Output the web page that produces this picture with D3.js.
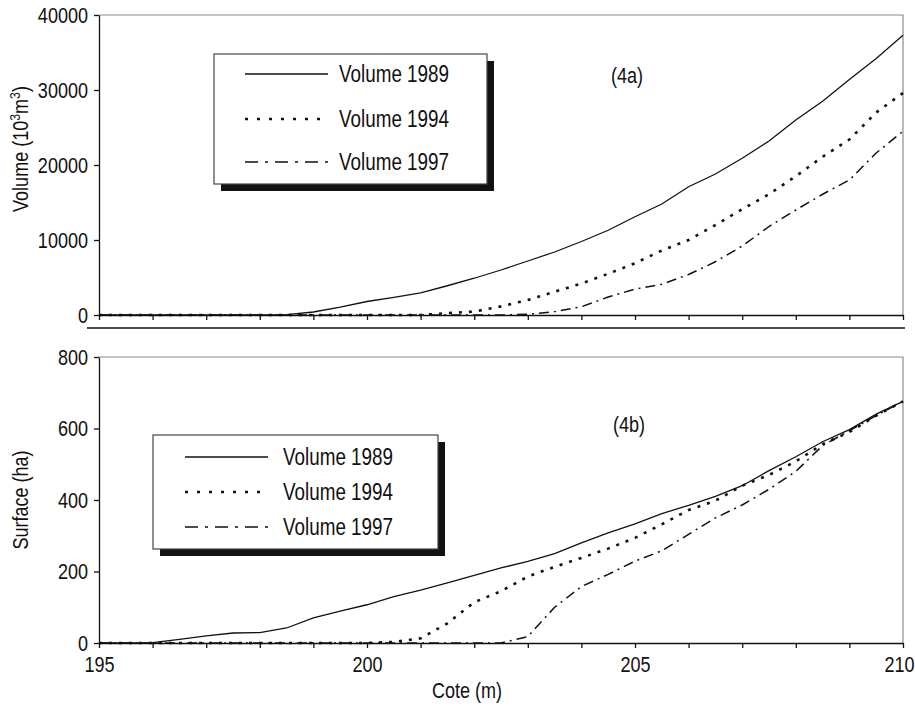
<!DOCTYPE html>
<html>
<head>
<meta charset="utf-8">
<script src="https://cdn.jsdelivr.net/npm/d3@7"></script>
<style>
  body { margin: 0; background: #fff; }
  svg { display: block; font-family: "Liberation Sans", Arial, sans-serif; }
  .axis path, .axis line { stroke: #111; stroke-width: 1.3; }
  .axis text { font-size: 22px; fill: #111; }
</style>
</head>
<body>
<script>
// cote (m), common grid for all series
var cote = [195, 195.5, 196, 196.5, 197, 197.5, 198, 198.5, 199, 199.5, 200, 200.5, 201, 201.5, 202,
  202.5, 203, 203.5, 204, 204.5, 205, 205.5, 206, 206.5, 207, 207.5, 208, 208.5, 209, 209.5, 210];

// volume (10^3 m3)
var vol1989 = [0, 0, 0, 0, 0, 0, 0, 50, 400, 1050, 1800, 2350, 2950, 3900, 4900, 6000, 7200, 8400,
  9800, 11300, 13100, 14800, 17100, 18800, 20900, 23200, 26000, 28500, 31400, 34200, 37300];
var vol1994 = [0, 0, 0, 0, 0, 0, 0, 0, 0, 0, 0, 0, 0, 250, 450, 1150, 2000, 3100, 4200, 5500, 6900,
  8600, 10000, 12000, 14100, 16100, 18500, 21100, 23400, 27000, 29600];
var vol1997 = [0, 0, 0, 0, 0, 0, 0, 0, 0, 0, 0, 0, 0, 0, 0, 0, 100, 450, 1100, 2400, 3450, 4100,
  5400, 7100, 9200, 11800, 14000, 16100, 18000, 21600, 24500];

// surface (ha)
var surf1989 = [0, 0, 1, 10, 20, 28, 29, 42, 70, 89, 107, 130, 148, 168, 189, 210, 228, 250, 280,
  308, 333, 362, 385, 410, 440, 482, 521, 563, 597, 640, 676];
var surf1994 = [0, 0, 0, 0, 0, 0, 0, 0, 0, 0, 0, 3, 13, 55, 114, 145, 186, 213, 238, 264, 294, 332,
  372, 398, 440, 470, 508, 556, 590, 636, 676];
var surf1997 = [0, 0, 0, 0, 0, 0, 0, 0, 0, 0, 0, 0, 0, 0, 0, 0, 18, 100, 158, 192, 229, 258, 304,
  350, 386, 430, 480, 552, 594, 636, 676];

var seriesNames = ["Volume 1989", "Volume 1994", "Volume 1997"];
var volTicks = [0, 10000, 20000, 30000, 40000];
var surfTicks = [0, 200, 400, 600, 800];
var coteTicks = [195, 196, 197, 198, 199, 200, 201, 202, 203, 204, 205, 206, 207, 208, 209, 210];
var coteLabels = [195, 200, 205, 210];

// line look for each series
var styles = [
  {dash: null, width: 1.3},
  {dash: "3,7", width: 2.6},
  {dash: "10,5,2,5", width: 1.5}
];

// the original uses a narrow sans, so squeeze Liberation Sans horizontally
var squeeze = 0.82;

var svg = d3.select("body").append("svg")
    .attr("width", 915)
    .attr("height", 710);

var x = d3.scaleLinear().domain([195, 210]).range([99, 903]);
var yVol = d3.scaleLinear().domain([0, 40000]).range([315, 15]);
var ySurf = d3.scaleLinear().domain([0, 800]).range([643, 357]);

function label(px, py, size, txt, anchor) {
  return svg.append("text")
      .attr("transform", "translate(" + px + "," + py + ") scale(" + squeeze + ",1)")
      .attr("text-anchor", anchor || "start")
      .attr("fill", "#111")
      .style("font-size", size + "px")
      .text(txt);
}

function drawPanel(y, top, bottom, yTicks, series, showLabels) {
      // grey frame top and right
  svg.append("path")
      .attr("d", "M" + x(195) + "," + top + "H" + x(210) + "V" + bottom)
      .attr("fill", "none")
      .attr("stroke", "#8a8a8a")
      .attr("stroke-width", 1.2);

  svg.append("g")
      .attr("class", "axis")
      .attr("transform", "translate(" + x(195) + ",0)")
      .call(d3.axisLeft(y).tickValues(yTicks).tickSize(5).tickSizeOuter(0).tickPadding(6)
          .tickFormat(d3.format("d")))
      .selectAll("text")
      .attr("x", -11 / squeeze)
      .attr("transform", "scale(" + squeeze + ",1)");

  var xAxis = d3.axisBottom(x).tickValues(coteTicks).tickSize(5).tickSizeOuter(0).tickPadding(8)
      .tickFormat(function(d) { return (showLabels && coteLabels.indexOf(d) >= 0) ? d : ""; });
  svg.append("g")
      .attr("class", "axis")
      .attr("transform", "translate(0," + bottom + ")")
      .call(xAxis)
      .selectAll("text")
      .attr("transform", "scale(" + squeeze + ",1)")
      .filter(function(d) { return d == 210; })
      .attr("text-anchor", "end")
      .attr("x", 11 / squeeze);

  var line = d3.line()
      .x(function(d, i) { return x(cote[i]); })
      .y(function(d) { return y(d); });

  series.forEach(function(s, i) {
    svg.append("path")
        .datum(s)
        .attr("fill", "none")
        .attr("stroke", "#111")
        .attr("stroke-width", styles[i].width)
        .attr("stroke-dasharray", styles[i].dash)
        .attr("d", line);
  });
}

function drawLegend(bx, by, bw, bh, lineX0, lineX1, textX, rows) {
  svg.append("rect")
      .attr("x", bx + 7).attr("y", by + 7)
      .attr("width", bw).attr("height", bh)
      .attr("fill", "#111");
  svg.append("rect")
      .attr("x", bx).attr("y", by)
      .attr("width", bw).attr("height", bh)
      .attr("fill", "#fff")
      .attr("stroke", "#444")
      .attr("stroke-width", 1.2);
  rows.forEach(function(ry, i) {
    svg.append("line")
        .attr("x1", lineX0).attr("x2", lineX1)
        .attr("y1", ry).attr("y2", ry)
        .attr("stroke", "#111")
        .attr("stroke-width", i == 1 ? 2.6 : 1.4)
        .attr("stroke-dasharray", i == 0 ? null : (i == 1 ? "3,9" : "13,7,3,7"));
    label(textX, ry + 8, 23, seriesNames[i]);
  });
}

drawPanel(yVol, 15, 315, volTicks, [vol1989, vol1994, vol1997], false);
drawPanel(ySurf, 357, 643, surfTicks, [surf1989, surf1994, surf1997], true);

// separator under the top panel
svg.append("line")
    .attr("x1", 87).attr("x2", 905)
    .attr("y1", 328).attr("y2", 328)
    .attr("stroke", "#111")
    .attr("stroke-width", 1.6);

drawLegend(214, 54, 273, 130, 245, 328, 339, [74, 119, 162]);
drawLegend(153, 435, 285, 114, 185, 268, 283, [457, 492, 527]);

label(611, 83, 22, "(4a)");
label(613, 432, 22, "(4b)");

// axis titles
var volTitle = svg.append("text")
    .attr("transform", "translate(28,149) rotate(-90) scale(" + squeeze + ",1)")
    .attr("text-anchor", "middle")
    .attr("fill", "#111")
    .style("font-size", "22px");
volTitle.append("tspan").text("Volume (10");
volTitle.append("tspan").attr("dy", -8).style("font-size", "15px").text("3");
volTitle.append("tspan").attr("dy", 8).text("m");
volTitle.append("tspan").attr("dy", -8).style("font-size", "15px").text("3");
volTitle.append("tspan").attr("dy", 8).text(")");

svg.append("text")
    .attr("transform", "translate(28,500) rotate(-90) scale(" + squeeze + ",1)")
    .attr("text-anchor", "middle")
    .attr("fill", "#111")
    .style("font-size", "22px")
    .text("Surface (ha)");

label(467, 698, 22, "Cote (m)", "middle");
</script>
</body>
</html>
